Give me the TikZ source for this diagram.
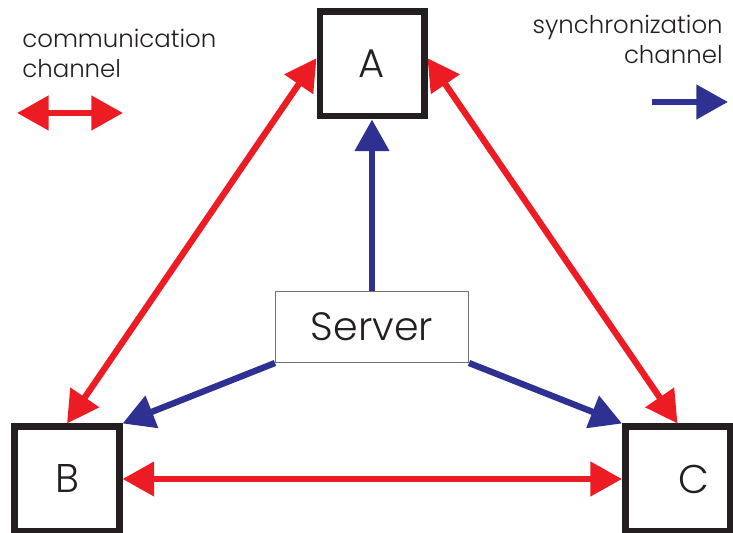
\documentclass[tikz,border=0pt]{standalone}
\usepackage{fontspec}
\setmainfont{Poppins}[UprightFont=* Light]
\usetikzlibrary{arrows.meta,positioning}
\definecolor{chanred}{HTML}{ED1C24}
\definecolor{chanblue}{HTML}{2E3192}
\definecolor{ink}{HTML}{231F20}

\begin{document}
\begin{tikzpicture}[
    peer/.style={draw=ink, line width=3.7pt, minimum size=2.09cm, inner sep=0pt, font=\fontsize{22.8}{26}\selectfont, text=ink},
    server/.style={draw=black!55, line width=0.6pt, minimum width=3.86cm, minimum height=1.42cm, font=\fontsize{22.5}{26}\selectfont, text=ink},
    comm/.style={{Triangle[length=18pt,width=19pt]}-{Triangle[length=18pt,width=19pt]}, line width=3.6pt, color=chanred},
    sync/.style={-{Triangle[length=18pt,width=19pt]}, line width=3.6pt, color=chanblue},
    legend/.style={inner sep=0pt, text=ink, font=\fontsize{13.9}{17}\selectfont},
]
\useasboundingbox (0,0) rectangle (14.66,10.66);

\node[peer] (A) at (7.44,9.38) {A};
\node[peer] (B) at (1.34,1.08) {B};
\node[peer] (C) at (13.55,1.08) {\hspace*{0.64cm}C};
\node[server] (srv) at (7.44,4.12) {Server};

% communication channels
\draw[comm] (B.north) -- (A.174);
\draw[comm] (A.6) -- (C.north);
\draw[comm] (B.east) -- (C.west);

% synchronization channels
\draw[sync] (srv.north) -- (A.south);
\draw[sync] (srv.south west) -- (B.north east);
\draw[sync] (srv.south east) -- (C.north west);

% legend
\node[legend, anchor=north west, align=left] (commtxt) at (0.44,10.08) {communication\\channel};
\node[legend, anchor=north east, align=right] (synctxt) at (14.46,10.36) {synchronization\\channel};
\coordinate (cl1) at (0.34,8.4);
\coordinate (cl2) at (2.46,8.4);
\coordinate (sl1) at (13.04,8.62);
\coordinate (sl2) at (14.56,8.62);
\draw[comm] (cl1) -- (cl2);
\draw[sync] (sl1) -- (sl2);

\end{tikzpicture}
\end{document}
